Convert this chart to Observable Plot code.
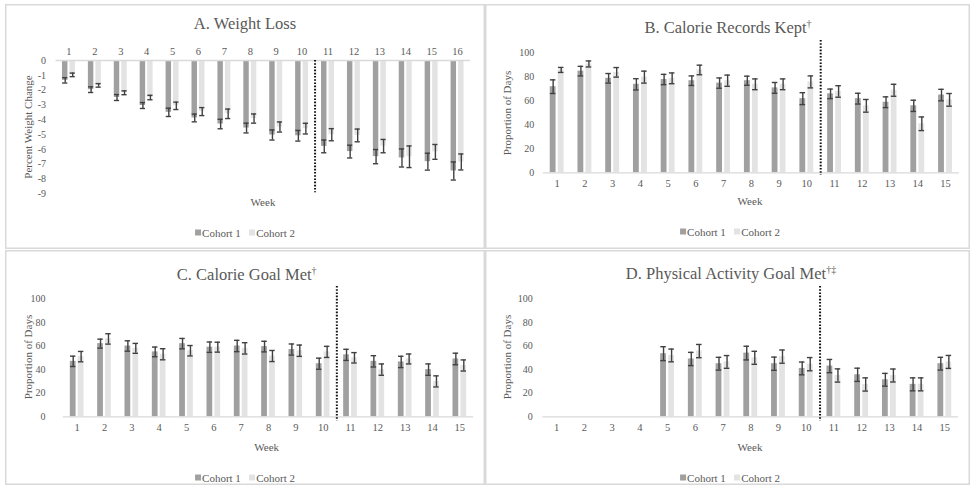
<!DOCTYPE html>
<html><head><meta charset="utf-8">
<script src="https://cdn.jsdelivr.net/npm/d3@7"></script>
<script src="https://cdn.jsdelivr.net/npm/@observablehq/plot@0.6"></script>
<style>
body{margin:0;background:#fff;font-family:"Liberation Serif","Times New Roman",serif;color:#595959;}
#root{position:relative;width:975px;height:499px;overflow:hidden;background:#fff;}
.panel{position:absolute;box-shadow:inset 0 0 0 1.5px #d9d9d9;}
.panel svg{position:absolute;left:0;top:0;overflow:visible;}
.lbl{position:absolute;white-space:nowrap;transform:translate(-50%,-50%);line-height:1;color:#595959;}
.title{font-size:16.5px;}
.title sup{font-size:10px;vertical-align:6px;line-height:0;}
.axl{font-size:11px;}
.ylab{transform:translate(-50%,-50%) rotate(-90deg);}
.leg{font-size:11px;}
.sw{display:inline-block;width:6px;height:6px;margin-right:1px;vertical-align:1px;}
</style></head>
<body><div id="root"></div>
<script>
// ---------- data ----------
const weeksA = [1,2,3,4,5,6,7,8,9,10,11,12,13,14,15,16];
const weeks = [1,2,3,4,5,6,7,8,9,10,11,12,13,14,15];
const cohorts = ["Cohort 1", "Cohort 2"];

// A. Weight loss (percent change), mean and error half-width
const lossC1 = [-1.34,-1.97,-2.5,-3.04,-3.5,-3.88,-4.29,-4.56,-5.03,-5.08,-5.8,-6.15,-6.49,-6.58,-6.83,-7.46];
const lossC2 = [-0.97,-1.68,-2.18,-2.5,-3.06,-3.45,-3.6,-3.92,-4.49,-4.6,-5.01,-5.06,-5.78,-6.5,-6.17,-6.85];
const lossErrC1 = [0.18,0.19,0.2,0.2,0.28,0.26,0.32,0.33,0.34,0.36,0.43,0.43,0.48,0.61,0.57,0.61];
const lossErrC2 = [0.12,0.12,0.13,0.15,0.25,0.27,0.32,0.31,0.34,0.36,0.41,0.43,0.45,0.73,0.5,0.54];

// B. Calorie records kept (proportion of days)
const recC1 = [72,85,79,74,78,77,75,77,71,62,66,62,59,56,65];
const recC2 = [86,91,84,80,79,86,77,74,74,76,68,56,69,41,61];
const recErrC1 = [5.7,4,4,4.7,4.3,4,4.3,3.8,4.5,5,4,4.5,4.5,4.7,4.8];
const recErrC2 = [2.1,2.5,4,5,4.5,4,4.7,4.5,4.5,5,4.8,5.3,5,5.7,5.3];

// C. Calorie goal met
const calC1 = [47,62,60,55,62,59,60,59.5,57,45,52.5,47,46.5,40,49];
const calC2 = [51,66,58,53,56,59,58,51.5,56,55,50,40,49,30,43.5];
const calErrC1 = [4.4,3.8,4.4,4.1,4.4,4.4,4.8,4.5,4.7,4.7,4.7,4.8,4.8,4.8,4.9];
const calErrC2 = [4.4,4.4,4.2,4.7,4.4,4.2,4.8,4.7,4.8,4.7,4.4,4.8,4.2,4.7,4.7];

// D. Physical activity goal met (not tracked weeks 1-4)
const actC1 = [null,null,null,null,53.5,49,45,54,45,41,43,35.6,31.4,27.5,45];
const actC2 = [null,null,null,null,52,55.7,46.5,50,51,44.6,35,27.4,35,27.5,46.5];
const actErrC1 = [null,null,null,null,5.9,5.6,5.4,5.8,5.6,5.4,5.6,5.6,5.4,5.5,5.4];
const actErrC2 = [null,null,null,null,5.4,5.6,5.4,5.5,5.6,5.6,5.6,5.6,5.5,5.5,5.5];

const phaseBreak = 10.5;
const lossTicks = [0,-1,-2,-3,-4,-5,-6,-7,-8,-9];
const propTicks = [0,20,40,60,80,100];

// ---------- helpers ----------
const colors = ["#a0a0a0", "#e3e3e3"];
const slot = {"Cohort 1": [-0.25, -0.04], "Cohort 2": [0.04, 0.25]};
const cap = 0.1;

function rowsOf(wk, v1, v2, e1, e2) {
  const out = [];
  wk.forEach((w, i) => {
    if (v1[i] != null) out.push({week: w, cohort: cohorts[0], value: v1[i], err: e1[i]});
    if (v2[i] != null) out.push({week: w, cohort: cohorts[1], value: v2[i], err: e2[i]});
  });
  return out;
}

const root = document.getElementById("root");
function addLabel(html, x, y, cls) {
  const d = document.createElement("div");
  d.className = "lbl " + cls;
  d.innerHTML = html;
  d.style.left = x + "px"; d.style.top = y + "px";
  root.appendChild(d);
}

function panel(cfg) {
  const {box, frame, wk, rows, yDomain, yTicks, top, tickPad, yPad, breakInset} = cfg;
  const div = document.createElement("div");
  div.className = "panel";
  Object.assign(div.style, {left: box.x + "px", top: box.y + "px", width: box.w + "px", height: box.h + "px"});
  const mid = d => d.week + (slot[d.cohort][0] + slot[d.cohort][1]) / 2;
  const caps = rows.flatMap(d => [{...d, cy: d.value - d.err}, {...d, cy: d.value + d.err}]);
  const plot = Plot.plot({
    width: box.w, height: box.h,
    marginLeft: frame.x0 - box.x, marginRight: box.x + box.w - frame.x1,
    marginTop: frame.y0 - box.y, marginBottom: box.y + box.h - frame.y1,
    style: {fontFamily: "'Liberation Serif','Times New Roman',serif", fontSize: "10px", color: "#595959", background: "transparent", overflow: "visible"},
    x: {type: "linear", domain: [0.5, wk.length + 0.5]},
    y: {domain: yDomain},
    color: {domain: cohorts, range: colors},
    marks: [
      Plot.axisX(wk, {anchor: top ? "top" : "bottom", tickSize: 0, tickPadding: tickPad, tickFormat: d => String(d), label: null, fontSize: 10.5}),
      Plot.axisY(yTicks, {anchor: "left", tickSize: 0, tickPadding: yPad, tickFormat: d => String(d), label: null, fontSize: 10}),
      Plot.rect(rows, {x1: d => d.week + slot[d.cohort][0], x2: d => d.week + slot[d.cohort][1], y1: d => 0, y2: "value", fill: "cohort"}),
      Plot.ruleY([0], {stroke: "#d9d9d9", strokeWidth: 1.3}),
      Plot.ruleX(rows, {x: mid, y1: d => d.value - d.err, y2: d => d.value + d.err, stroke: "#404040", strokeWidth: 1.4}),
      Plot.ruleY(caps, {x1: d => mid(d) - cap, x2: d => mid(d) + cap, y: "cy", stroke: "#404040", strokeWidth: 1.4}),
      Plot.ruleX([phaseBreak], {stroke: "#111", strokeWidth: 2, strokeDasharray: "1.6,1.6", insetTop: breakInset[0], insetBottom: breakInset[1]})
    ]
  });
  div.appendChild(plot);
  root.appendChild(div);
}

const legendHtml = `<span class="sw" style="background:${colors[0]}"></span>Cohort 1&nbsp;&nbsp;&nbsp;<span class="sw" style="background:${colors[1]}"></span>Cohort 2`;

// Panel A
panel({box: {x: 5, y: 4, w: 480, h: 245}, frame: {x0: 55.5, x1: 470, y0: 60, y1: 193.3},
  wk: weeksA, rows: rowsOf(weeksA, lossC1, lossC2, lossErrC1, lossErrC2),
  yDomain: [-9, 0], yTicks: lossTicks, top: true, tickPad: 6, yPad: 10, breakInset: [0, 1]});
addLabel("A. Weight Loss", 245, 24, "title");
addLabel("Week", 263, 202, "axl");
addLabel("Percent Weight Change", 28, 127, "axl ylab");
addLabel(legendHtml, 245, 232.5, "leg");

// Panel B
panel({box: {x: 485, y: 4, w: 485, h: 245}, frame: {x0: 542.8, x1: 958.9, y0: 52.7, y1: 172.3},
  wk: weeks, rows: rowsOf(weeks, recC1, recC2, recErrC1, recErrC2),
  yDomain: [0, 100], yTicks: propTicks, top: false, tickPad: 7, yPad: 9, breakInset: [-12.7, -2.7]});
addLabel("B. Calorie Records Kept<sup>†</sup>", 728, 28, "title");
addLabel("Week", 750, 201, "axl");
addLabel("Proportion of Days", 507, 112.5, "axl ylab");
addLabel(legendHtml, 730, 232, "leg");

// Panel C
panel({box: {x: 5, y: 250, w: 480, h: 235}, frame: {x0: 63, x1: 473, y0: 298.3, y1: 416.3},
  wk: weeks, rows: rowsOf(weeks, calC1, calC2, calErrC1, calErrC2),
  yDomain: [0, 100], yTicks: propTicks, top: false, tickPad: 7, yPad: 18, breakInset: [-12.3, -4.4]});
addLabel("C. Calorie Goal Met<sup>†</sup>", 246.7, 275, "title");
addLabel("Week", 266.7, 446.7, "axl");
addLabel("Proportion of Days", 28, 357, "axl ylab");
addLabel(legendHtml, 245, 477.7, "leg");

// Panel D
panel({box: {x: 485, y: 250, w: 485, h: 235}, frame: {x0: 542.3, x1: 958.2, y0: 298.3, y1: 416.3},
  wk: weeks, rows: rowsOf(weeks, actC1, actC2, actErrC1, actErrC2),
  yDomain: [0, 100], yTicks: propTicks, top: false, tickPad: 7, yPad: 10, breakInset: [-12.3, -4.4]});
addLabel("D. Physical Activity Goal Met<sup>†‡</sup>", 731, 274, "title");
addLabel("Week", 750, 446.7, "axl");
addLabel("Proportion of Days", 507, 357, "axl ylab");
addLabel(legendHtml, 730, 477.7, "leg");
</script>
</body></html>
